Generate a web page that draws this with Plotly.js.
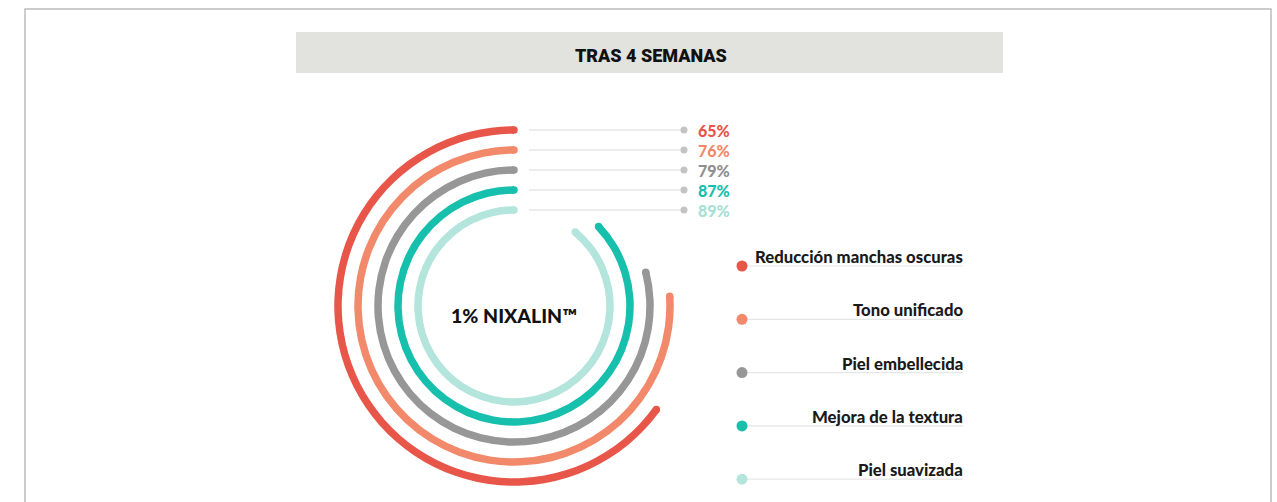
<!DOCTYPE html>
<html>
<head>
<meta charset="utf-8">
<script src="https://cdn.plot.ly/plotly-3.0.1.min.js"></script>
<style>
  html, body { margin: 0; padding: 0; background: #fff; }
  #chart { width: 1277px; height: 502px; }
</style>
</head>
<body>
<div id="chart"></div>
<script>
// data
const labels = ['Reducción manchas oscuras', 'Tono unificado', 'Piel embellecida', 'Mejora de la textura', 'Piel suavizada'];
const percents = [65, 76, 79, 87, 89];
const ringColors = ['#e8564a', '#f2896b', '#979797', '#17bfad', '#b3e5dc'];
const pctColors = ['#e8564a', '#f2896b', '#8f8f8f', '#17bfad', '#a9e0d6'];
const titleText = 'TRAS 4 SEMANAS';
const centerText = '1% NIXALIN™';

// geometry (pixels, 1 radial unit = 1 px)
const W = 1277, H = 502;
const CX = 514, CY = 306;
const RMAX = 190;
const R_OUTER = 176, R_STEP = 20, THICK = 7.5;
const LEAD_START = 15, LEAD_END = 170;
const LEG_X = 228, LEG_RIGHT = 449, LEG_TOP = 40, LEG_STEP = 53.3;

const radii = percents.map((p, i) => R_OUTER - i * R_STEP);
const sweep = percents.map(p => p * 3.6);

const arcTrace = {
    type: 'barpolar',
    r: radii.map(() => THICK),
    base: radii.map(r => r - THICK / 2),
    theta: sweep.map(s => s / 2),
    width: sweep,
    marker: {color: ringColors, line: {width: 0}},
    hoverinfo: 'skip',
    showlegend: false
};

// round caps at both ends of each arc
const capTrace = {
    type: 'scatterpolar',
    mode: 'markers',
    r: radii.flatMap(r => [r, r]),
    theta: sweep.flatMap(s => [0, s]),
    marker: {color: ringColors.flatMap(c => [c, c]), size: THICK, line: {width: 0}},
    hoverinfo: 'skip',
    showlegend: false
};

const leaderTraces = radii.map(r => ({
    type: 'scatter',
    mode: 'lines',
    x: [LEAD_START, LEAD_END],
    y: [r, r],
    line: {color: '#dcdcdc', width: 1.2},
    hoverinfo: 'skip',
    showlegend: false
}));

const leaderDots = {
    type: 'scatter',
    mode: 'markers',
    x: radii.map(() => LEAD_END),
    y: radii,
    marker: {color: '#c4c4c4', size: 7},
    hoverinfo: 'skip',
    showlegend: false
};

const legY = labels.map((l, i) => LEG_TOP - i * LEG_STEP);

const legendLines = legY.map(y => ({
    type: 'scatter',
    mode: 'lines',
    x: [LEG_X, LEG_RIGHT],
    y: [y, y],
    line: {color: '#e6e6e6', width: 1.2},
    hoverinfo: 'skip',
    showlegend: false
}));

const legendDots = {
    type: 'scatter',
    mode: 'markers',
    x: legY.map(() => LEG_X),
    y: legY,
    marker: {color: ringColors, size: 11},
    hoverinfo: 'skip',
    showlegend: false
};

const pctAnnotations = percents.map((p, i) => ({
    xref: 'x', yref: 'y',
    x: LEAD_END + 12, y: radii[i],
    xanchor: 'left', yanchor: 'middle',
    text: p + '%',
    showarrow: false,
    font: {family: 'Lato, sans-serif', size: 16, weight: 900, color: pctColors[i]}
}));

const legendAnnotations = labels.map((l, i) => ({
    xref: 'x', yref: 'y',
    x: LEG_RIGHT + 2, y: legY[i] + 9,
    xanchor: 'right', yanchor: 'middle',
    text: l,
    showarrow: false,
    font: {family: 'Lato, sans-serif', size: 16.7, weight: 900, color: '#1a1a1a'}
}));

const layout = {
    width: W,
    height: H,
    margin: {l: 0, r: 0, t: 0, b: 0},
    paper_bgcolor: '#ffffff',
    plot_bgcolor: 'rgba(0,0,0,0)',
    showlegend: false,
    polar: {
        domain: {
            x: [(CX - RMAX) / W, (CX + RMAX) / W],
            y: [(H - CY - RMAX) / H, (H - CY + RMAX) / H]
        },
        bgcolor: 'rgba(0,0,0,0)',
        radialaxis: {visible: false, range: [0, RMAX]},
        angularaxis: {visible: false, rotation: 90, direction: 'counterclockwise'}
    },
    xaxis: {range: [-CX, W - CX], visible: false, fixedrange: true},
    yaxis: {range: [-(H - CY), CY], visible: false, fixedrange: true},
    shapes: [
        {type: 'rect', xref: 'paper', yref: 'paper', layer: 'below',
         x0: 25 / W, x1: 1271 / W, y0: -0.05, y1: 1 - 9 / H,
         line: {color: '#bcbcbc', width: 1.5}, fillcolor: 'rgba(0,0,0,0)'},
        {type: 'rect', xref: 'paper', yref: 'paper', layer: 'below',
         x0: 296 / W, x1: 1003 / W, y0: 1 - 73 / H, y1: 1 - 32 / H,
         line: {width: 0}, fillcolor: '#e2e2de'}
    ],
    annotations: [
        {xref: 'paper', yref: 'paper', x: 651 / W, y: 1 - 55 / H,
         xanchor: 'center', yanchor: 'middle', showarrow: false,
         text: titleText,
         font: {family: '"Liberation Sans Narrow", "Roboto", sans-serif', size: 18, weight: 900, color: '#111'}},
        {xref: 'x', yref: 'y', x: 0, y: -9,
         xanchor: 'center', yanchor: 'middle', showarrow: false,
         text: centerText,
         font: {family: 'Lato, sans-serif', size: 19.5, weight: 900, color: '#111'}}
    ].concat(pctAnnotations, legendAnnotations)
};

Plotly.newPlot('chart',
    [arcTrace, capTrace].concat(leaderTraces, [leaderDots], legendLines, [legendDots]),
    layout,
    {displayModeBar: false, staticPlot: true}
);
</script>
</body>
</html>
